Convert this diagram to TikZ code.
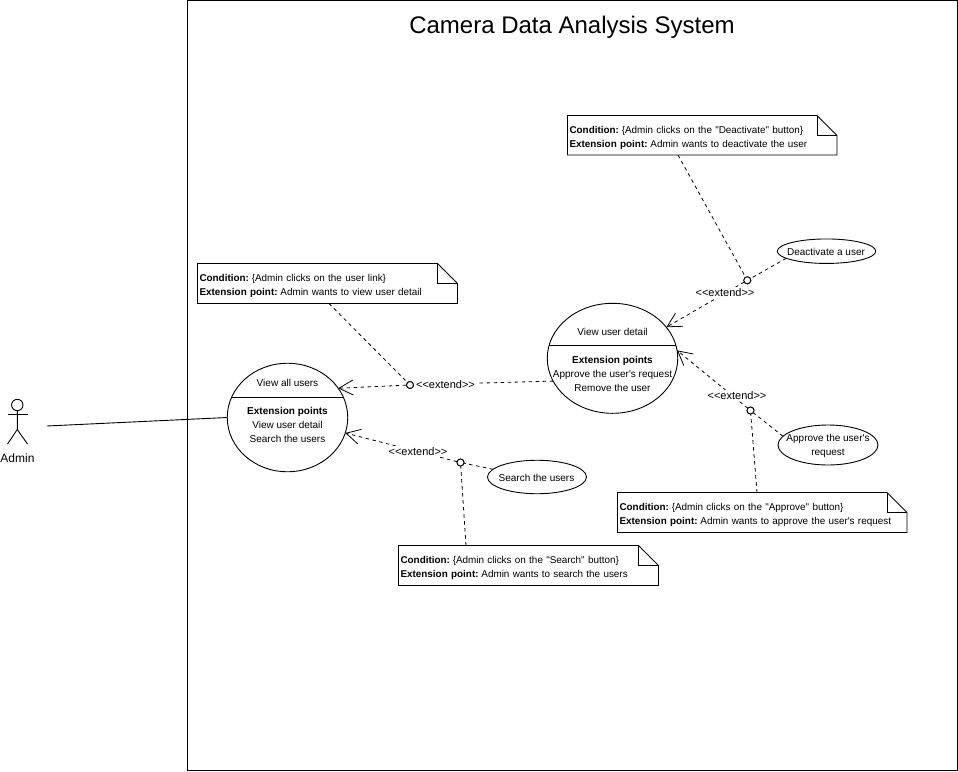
\documentclass[tikz,border=0pt]{standalone}
\usepackage{fontspec}
\setmainfont{Liberation Sans}[Ligatures=TeXOff]
\usetikzlibrary{shapes.geometric,arrows.meta,calc}
\newcommand{\apos}{\textquotesingle}
\newcommand{\dq}{\symbol{34}}
\newcommand{\cond}{\textbf{Condition:}\hspace{2.8pt}}
\newcommand{\expt}{\textbf{Extension point:}\hspace{2.8pt}}
\tikzset{
  uc/.style={draw=black,ellipse,line width=0.9pt,inner sep=0pt,outer sep=0pt,fill=white},
  txt/.style={font=\fontsize{10}{14}\selectfont,align=center,inner sep=0pt},
  notebox/.style={inner sep=0pt,outer sep=0pt,font=\fontsize{9.9}{14.2}\selectfont,align=left,text width=#1},
  dot/.style={circle,draw=black,fill=white,line width=0.9pt,minimum size=7pt,inner sep=0pt,outer sep=0pt},
  ext/.style={font=\fontsize{11}{13}\selectfont,inner sep=1pt,fill=white},
  dash line/.style={draw=black,line width=0.8pt,dash pattern=on 3.5pt off 3.5pt},
  open tip/.style={dash line,-{Straight Barb[length=14pt,width=15pt,line width=0.8pt]}},
  solid line/.style={draw=black,line width=0.9pt}
}
\newcommand{\notebody}[6]{%
  \draw[solid line] (#1,#3) -- (#2-20,#3) -- (#2,#3+20) -- (#2,#4) -- (#1,#4) -- cycle;
  \draw[solid line] (#2-20,#3) -- (#2-20,#3+20) -- (#2,#3+20);
  \node[notebox=#2-#1-6,anchor=west] (#5) at (#1+2,#3/2+#4/2+2.8) {#6};
}
\begin{document}
\begin{tikzpicture}[x=1pt,y=-1pt]
\useasboundingbox (0,0) rectangle (958,771);
\fill[white] (0,0) rectangle (958,771);
\draw[solid line] (187.5,0.7) rectangle (957,770.5);
\node[font=\fontsize{24}{28}\selectfont,inner sep=0pt] (title) at (572,27.5) {Camera Data Analysis System};

% actor
\coordinate (hd) at (17.3,405);
\draw[solid line] (hd) circle (5.7);
\draw[solid line] (17.3,410.7) -- (17.3,429.5) -- (7.5,444);
\draw[solid line] (17.3,429.5) -- (27.5,444);
\draw[solid line] (7.5,414.5) -- (27.5,414.5);
\node[font=\fontsize{12}{14}\selectfont,inner sep=0pt] (admin) at (17.5,458) {Admin};
\coordinate (actorhand) at (47,426);

% use cases
\node[uc,minimum width=120.5pt,minimum height=108.5pt] (vau) at (287.5,417.5) {};
\draw[solid line] (231.9,397.3) -- (343.1,397.3);
\node[txt] (vaut) at (287.5,383) {View all users};
\node[txt] (vaub) at (287.5,425) {\textbf{Extension points}\\View user detail\\Search the users};

\node[uc,minimum width=130.5pt,minimum height=110pt] (vud) at (612.5,358.3) {};
\draw[solid line] (549.4,345.3) -- (675.7,345.3);
\node[txt] (vudt) at (612.5,331.5) {View user detail};
\node[txt] (vudb) at (612.5,373.5) {\textbf{Extension points}\\Approve the user\apos s request\\Remove the user};

\node[uc,minimum width=98.5pt,minimum height=24.5pt] (deact) at (826.5,251.2) {};
\node[txt] at (826,252) {Deactivate a user};
\node[uc,minimum width=99pt,minimum height=33.5pt] (search) at (537,477) {};
\node[txt] at (536.5,477.5) {Search the users};
\node[uc,minimum width=100pt,minimum height=40pt] (appr) at (828,445) {};
\node[txt] at (828,445.5) {Approve the user\apos s\\request};

% notes
\notebody{567.5}{837}{115.5}{155}{n1}{\cond\{Admin clicks on the \dq Deactivate\dq{} button\}\\\expt Admin wants to deactivate the user}
\notebody{197.5}{457.5}{263.5}{303.5}{n2}{\cond\{Admin clicks on the user link\}\\\expt Admin wants to view user detail}
\notebody{617.5}{907}{492.5}{532.5}{n3}{\cond\{Admin clicks on the \dq Approve\dq{} button\}\\\expt Admin wants to approve the user\apos s request}
\notebody{398.5}{658.5}{545.5}{585.5}{n4}{\cond\{Admin clicks on the \dq Search\dq{} button\}\\\expt Admin wants to search the users}

% junction dots
\node[dot] (d1) at (747.3,280.3) {};
\node[dot] (d2) at (410,385) {};
\node[dot] (d3) at (460.5,462.5) {};
\node[dot] (d4) at (750.5,410.5) {};

\coordinate (n1p) at (678,155);
\coordinate (n2p) at (329,303.5);
\coordinate (n3p) at (757,492.5);
\coordinate (n4p) at (466,545.5);

% connectors
\draw[solid line] (actorhand) -- (vau.180);
\draw[dash line] (n1p) -- (d1);
\draw[dash line] (n2p) -- (d2);
\draw[dash line] (n3p) -- (d4);
\draw[dash line] (n4p) -- (d3);
\draw[dash line] (deact.190) -- (d1);
\draw[dash line] (search.170) -- (d3);
\draw[dash line] (appr.169) -- (d4);
\draw[open tip] (d1) -- (vud.30);
\draw[open tip] (d4) -- (vud.7);
\draw[open tip] (d3) -- (vau.-15);
\draw[open tip] (vud.201) -- (d2.center) -- (vau.30);
\node[dot] at (d1) {};
\node[dot] at (d2) {};
\node[dot] at (d3) {};
\node[dot] at (d4) {};

% labels
\node[ext] (l1) at (725,292.5) {<{}<extend>{}>};
\node[ext] (l2) at (445.5,385) {<{}<extend>{}>};
\node[ext] (l3) at (418,451.5) {<{}<extend>{}>};
\node[ext] (l4) at (737,395.5) {<{}<extend>{}>};
\end{tikzpicture}
\end{document}
